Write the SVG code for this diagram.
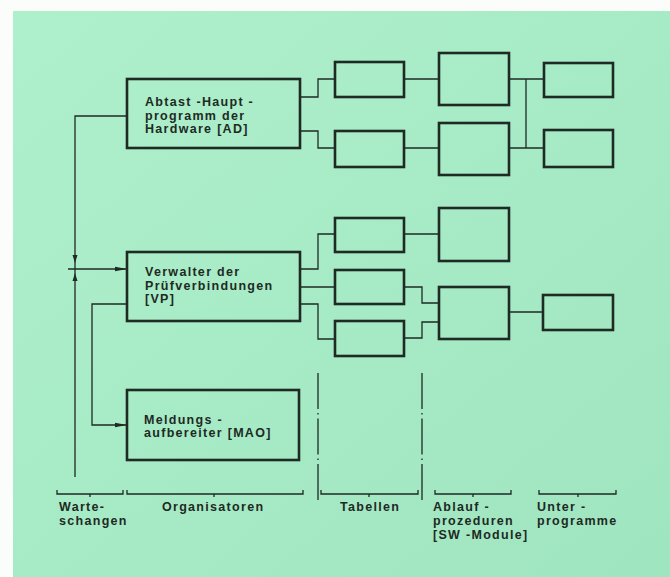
<svg xmlns="http://www.w3.org/2000/svg" width="670" height="577" viewBox="0 0 670 577">
<defs>
<linearGradient id="bg" x1="0" y1="0" x2="1" y2="1">
<stop offset="0" stop-color="#aff0cc"/>
<stop offset="1" stop-color="#9fe5c0"/>
</linearGradient>
<marker id="ah" viewBox="0 0 12 6" refX="12" refY="3" markerWidth="12" markerHeight="6" markerUnits="userSpaceOnUse" orient="auto">
<path d="M0,0.8 L12,3 L0,5.2 Z" fill="#1e2a24"/>
</marker>
</defs>
<style>
.box{fill:none;stroke:#1e2a24;stroke-width:2.6}
.ln{fill:none;stroke:#1e2a24;stroke-width:1.3}
.dd{fill:none;stroke:#1e2a24;stroke-width:1.3;stroke-dasharray:36 4 1.5 4}
.t{font-family:"Liberation Sans",Arial,sans-serif;font-weight:bold;font-size:12.5px;letter-spacing:1.3px;fill:#1e2a24}
</style>
<rect x="0" y="0" width="670" height="577" fill="#fbfdfb"/>
<rect x="13" y="11" width="657" height="566" fill="url(#bg)"/>

<g id="connectors">
<path class="ln" d="M75,477 V116 H127"/>
<path class="ln" d="M68,269 H127" marker-end="url(#ah)"/>
<path d="M72.5,255 L77.5,255 L75,263 Z" fill="#1e2a24"/>
<path d="M72.5,281 L77.5,281 L75,273 Z" fill="#1e2a24"/>
<path class="ln" d="M127,304 H92 V425 H127" marker-end="url(#ah)"/>
<path class="ln" d="M300,97 H318 V79 H335"/>
<path class="ln" d="M300,131 H318 V148 H335"/>
<path class="ln" d="M404,79 H439"/>
<path class="ln" d="M404,148 H439"/>
<path class="ln" d="M509,79 H544"/>
<path class="ln" d="M509,148 H544"/>
<path class="ln" d="M526,79 V148"/>
<path class="ln" d="M300,269 H318 V234 H335"/>
<path class="ln" d="M300,287 H335"/>
<path class="ln" d="M300,304 H318 V339 H335"/>
<path class="ln" d="M404,234 H439"/>
<path class="ln" d="M404,287 H422 V303 H439"/>
<path class="ln" d="M404,338 H422 V322 H439"/>
<path class="ln" d="M509,312 H543"/>
</g>

<g id="node-ad">
<rect class="box" x="127" y="79" width="173" height="69"/>
<text class="t" x="145" y="106">Abtast -Haupt -</text>
<text class="t" x="145" y="119.5">programm der</text>
<text class="t" x="145" y="133">Hardware [AD]</text>
</g>
<g id="node-vp">
<rect class="box" x="127" y="252" width="173" height="69"/>
<text class="t" x="145" y="276">Verwalter der</text>
<text class="t" x="145" y="289.5">Prüfverbindungen</text>
<text class="t" x="145" y="303">[VP]</text>
</g>
<g id="node-mao">
<rect class="box" x="127" y="390" width="172" height="70"/>
<text class="t" x="144" y="423.5">Meldungs -</text>
<text class="t" x="144" y="437">aufbereiter [MAO]</text>
</g>

<g id="tables">
<rect class="box" x="335" y="62" width="69" height="35"/>
<rect class="box" x="335" y="131" width="69" height="36"/>
<rect class="box" x="335" y="218" width="69" height="34"/>
<rect class="box" x="335" y="270" width="69" height="34"/>
<rect class="box" x="335" y="321" width="69" height="35"/>
</g>
<g id="ablauf">
<rect class="box" x="439" y="53" width="70" height="52"/>
<rect class="box" x="439" y="123" width="70" height="52"/>
<rect class="box" x="439" y="208" width="70" height="53"/>
<rect class="box" x="439" y="287" width="70" height="52"/>
</g>
<g id="unter">
<rect class="box" x="544" y="63" width="69" height="34"/>
<rect class="box" x="544" y="130" width="69" height="37"/>
<rect class="box" x="543" y="295" width="70" height="35"/>
</g>

<g id="separators">
<path class="dd" d="M318,373 V502"/>
<path class="dd" d="M422,373 V502"/>
</g>

<g id="brackets">
<path class="ln" d="M57,490 V494 H123 V490 M90,494 V497"/>
<path class="ln" d="M127,490 V494 H303 V490 M214,494 V497"/>
<path class="ln" d="M321,490 V494 H418 V490 M369,494 V497"/>
<path class="ln" d="M435,490 V494 H511 V490 M473,494 V497"/>
<path class="ln" d="M539,490 V494 H616 V490 M578,494 V497"/>
</g>

<g id="labels">
<text class="t" x="59" y="511">Warte-</text>
<text class="t" x="59" y="525">schangen</text>
<text class="t" x="162" y="511">Organisatoren</text>
<text class="t" x="340" y="511">Tabellen</text>
<text class="t" x="433" y="511">Ablauf -</text>
<text class="t" x="433" y="525">prozeduren</text>
<text class="t" x="433" y="539">[SW -Module]</text>
<text class="t" x="537" y="511">Unter -</text>
<text class="t" x="537" y="525">programme</text>
</g>
</svg>
